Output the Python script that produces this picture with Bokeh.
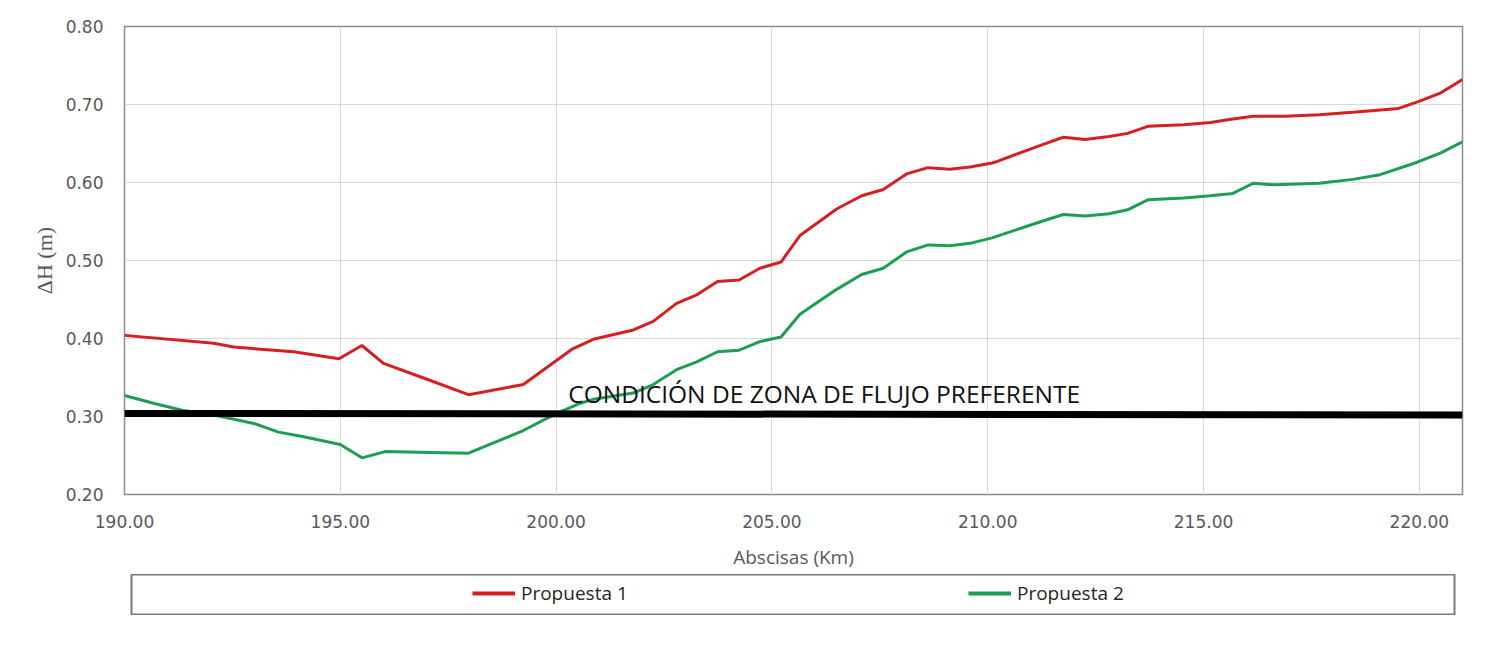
from bokeh.plotting import figure
from bokeh.models import Range1d, FixedTicker, NumeralTickFormatter, Legend, LegendItem
from bokeh.layouts import column
from bokeh.core.properties import value
from bokeh.embed import file_html
from bokeh.resources import INLINE

# ---- data ----
km_p1 = [190.0, 192.07, 192.53, 193.92, 194.97, 195.5, 196.0, 196.85, 197.97, 199.24,
         200.36, 200.86, 201.79, 202.25, 202.79, 203.26, 203.74, 204.24, 204.72, 205.21,
         205.65, 206.5, 207.08, 207.58, 208.12, 208.62, 209.12, 209.59, 210.1, 210.22,
         211.24, 211.75, 212.26, 212.81, 213.24, 213.71, 214.54, 215.16, 215.64, 216.15,
         216.89, 217.68, 218.46, 219.52, 219.99, 220.5, 221.0]
dh_p1 = [0.404, 0.394, 0.389, 0.383, 0.374, 0.391, 0.368, 0.351, 0.328, 0.341,
         0.386, 0.399, 0.411, 0.422, 0.445, 0.456, 0.473, 0.475, 0.490, 0.498,
         0.532, 0.566, 0.583, 0.591, 0.611, 0.619, 0.617, 0.620, 0.625, 0.627,
         0.648, 0.658, 0.655, 0.659, 0.663, 0.672, 0.674, 0.677, 0.681, 0.685,
         0.685, 0.687, 0.690, 0.695, 0.704, 0.715, 0.732]

km_p2 = [190.0, 190.67, 191.33, 192.07, 193.0, 193.57, 194.15, 195.0, 195.5, 196.04,
         197.08, 197.97, 199.24, 199.94, 200.56, 200.86, 201.79, 202.25, 202.79, 203.26,
         203.74, 204.24, 204.72, 205.21, 205.65, 206.5, 207.08, 207.58, 208.12, 208.62,
         209.12, 209.59, 210.1, 211.24, 211.75, 212.26, 212.81, 213.24, 213.72, 214.54,
         215.16, 215.68, 216.15, 216.65, 217.68, 218.46, 219.09, 219.95, 220.5, 221.0]
dh_p2 = [0.327, 0.317, 0.308, 0.302, 0.291, 0.280, 0.274, 0.264, 0.247, 0.255,
         0.254, 0.253, 0.282, 0.302, 0.317, 0.322, 0.330, 0.341, 0.360, 0.370,
         0.383, 0.385, 0.396, 0.402, 0.431, 0.463, 0.482, 0.490, 0.511, 0.520,
         0.519, 0.522, 0.529, 0.550, 0.559, 0.557, 0.560, 0.565, 0.578, 0.580,
         0.583, 0.586, 0.599, 0.597, 0.599, 0.604, 0.610, 0.626, 0.638, 0.652]

km_limit = [190.0, 221.0]
dh_limit = [0.304, 0.302]
limit_label = "CONDICIÓN DE ZONA DE FLUJO PREFERENTE"
limit_label_x = [200.28]
limit_label_y = [0.329]

series_names = ["Propuesta 1", "Propuesta 2"]
series_colors = ["#D42020", "#1E9E50"]
y_ticks = [0.20, 0.30, 0.40, 0.50, 0.60, 0.70, 0.80]
x_ticks = [190, 195, 200, 205, 210, 215, 220]

GRAY = "#595959"

p = figure(width=1504, height=574, output_backend="svg", toolbar_location=None,
           x_range=Range1d(190, 221), y_range=Range1d(0.20, 0.80),
           min_border_left=124, min_border_right=42, min_border_top=26, min_border_bottom=80)
p.outline_line_color = "#8c8c8c"
p.outline_line_width = 1.5
p.background_fill_color = "white"
p.border_fill_color = "white"

p.xgrid.grid_line_color = "#d9d9d9"
p.ygrid.grid_line_color = "#d9d9d9"
p.xgrid.ticker = FixedTicker(ticks=x_ticks)
p.ygrid.ticker = FixedTicker(ticks=y_ticks)

for ax in (p.xaxis[0], p.yaxis[0]):
    ax.axis_line_color = None
    ax.major_tick_line_color = None
    ax.minor_tick_line_color = None
    ax.major_tick_out = 0
    ax.major_label_text_font = "DejaVu Sans"
    ax.major_label_text_font_size = "17px"
    ax.major_label_text_color = GRAY
    ax.formatter = NumeralTickFormatter(format="0.00")

p.xaxis.ticker = FixedTicker(ticks=x_ticks)
p.yaxis.ticker = FixedTicker(ticks=y_ticks)
p.xaxis.major_label_standoff = 20
p.yaxis.major_label_standoff = 21

p.xaxis.axis_label = "Abscisas (Km)"
p.xaxis.axis_label_text_font = "Open Sans"
p.xaxis.axis_label_text_font_style = "normal"
p.xaxis.axis_label_text_font_size = "19px"
p.xaxis.axis_label_text_color = GRAY
p.xaxis.axis_label_standoff = 13

p.yaxis.axis_label = "ΔH (m)"
p.yaxis.axis_label_text_font = "Liberation Serif"
p.yaxis.axis_label_text_font_style = "normal"
p.yaxis.axis_label_text_font_size = "22px"
p.yaxis.axis_label_text_color = GRAY
p.yaxis.axis_label_standoff = 6

r1 = p.line(km_p1, dh_p1, line_color=series_colors[0], line_width=3)
r2 = p.line(km_p2, dh_p2, line_color=series_colors[1], line_width=3)
p.line(km_limit, dh_limit, line_color="black", line_width=7)
p.text(x=limit_label_x, y=limit_label_y, text=[limit_label], text_font=value("Open Sans"),
       text_font_size="24.5px", text_color="#111111", text_baseline="alphabetic", text_align="left")

# ---- legend panel (boxed, below the chart) ----
# the column aligns this panel's borders with the chart's (124 left, 42 right)
lf = figure(width=1489, height=41, output_backend="svg", toolbar_location=None,
            x_range=Range1d(0, 1), y_range=Range1d(0, 1), min_border=0,
            margin=(0, 0, 0, 7))
lf.axis.visible = False
lf.grid.visible = False
lf.outline_line_color = "#7a7a7a"
lf.outline_line_width = 2
# the series drawn again here fall outside this panel's ranges; they only feed the legend
lr1 = lf.line(km_p1, dh_p1, line_color=series_colors[0], line_width=4)
lr2 = lf.line(km_p2, dh_p2, line_color=series_colors[1], line_width=4)
leg = Legend(items=[LegendItem(label=series_names[0], renderers=[lr1]),
                    LegendItem(label=series_names[1], renderers=[lr2])],
             orientation="horizontal", location=(341, 9), padding=0, margin=0,
             spacing=337, glyph_width=43, glyph_height=22, label_standoff=6, label_width=110,
             label_text_font="Open Sans", label_text_font_size="19px",
             label_text_color="#262626", border_line_alpha=0, background_fill_alpha=0)
lf.add_layout(leg, "center")

layout = column(p, lf)
open("out.html", "w").write(file_html(layout, INLINE))
